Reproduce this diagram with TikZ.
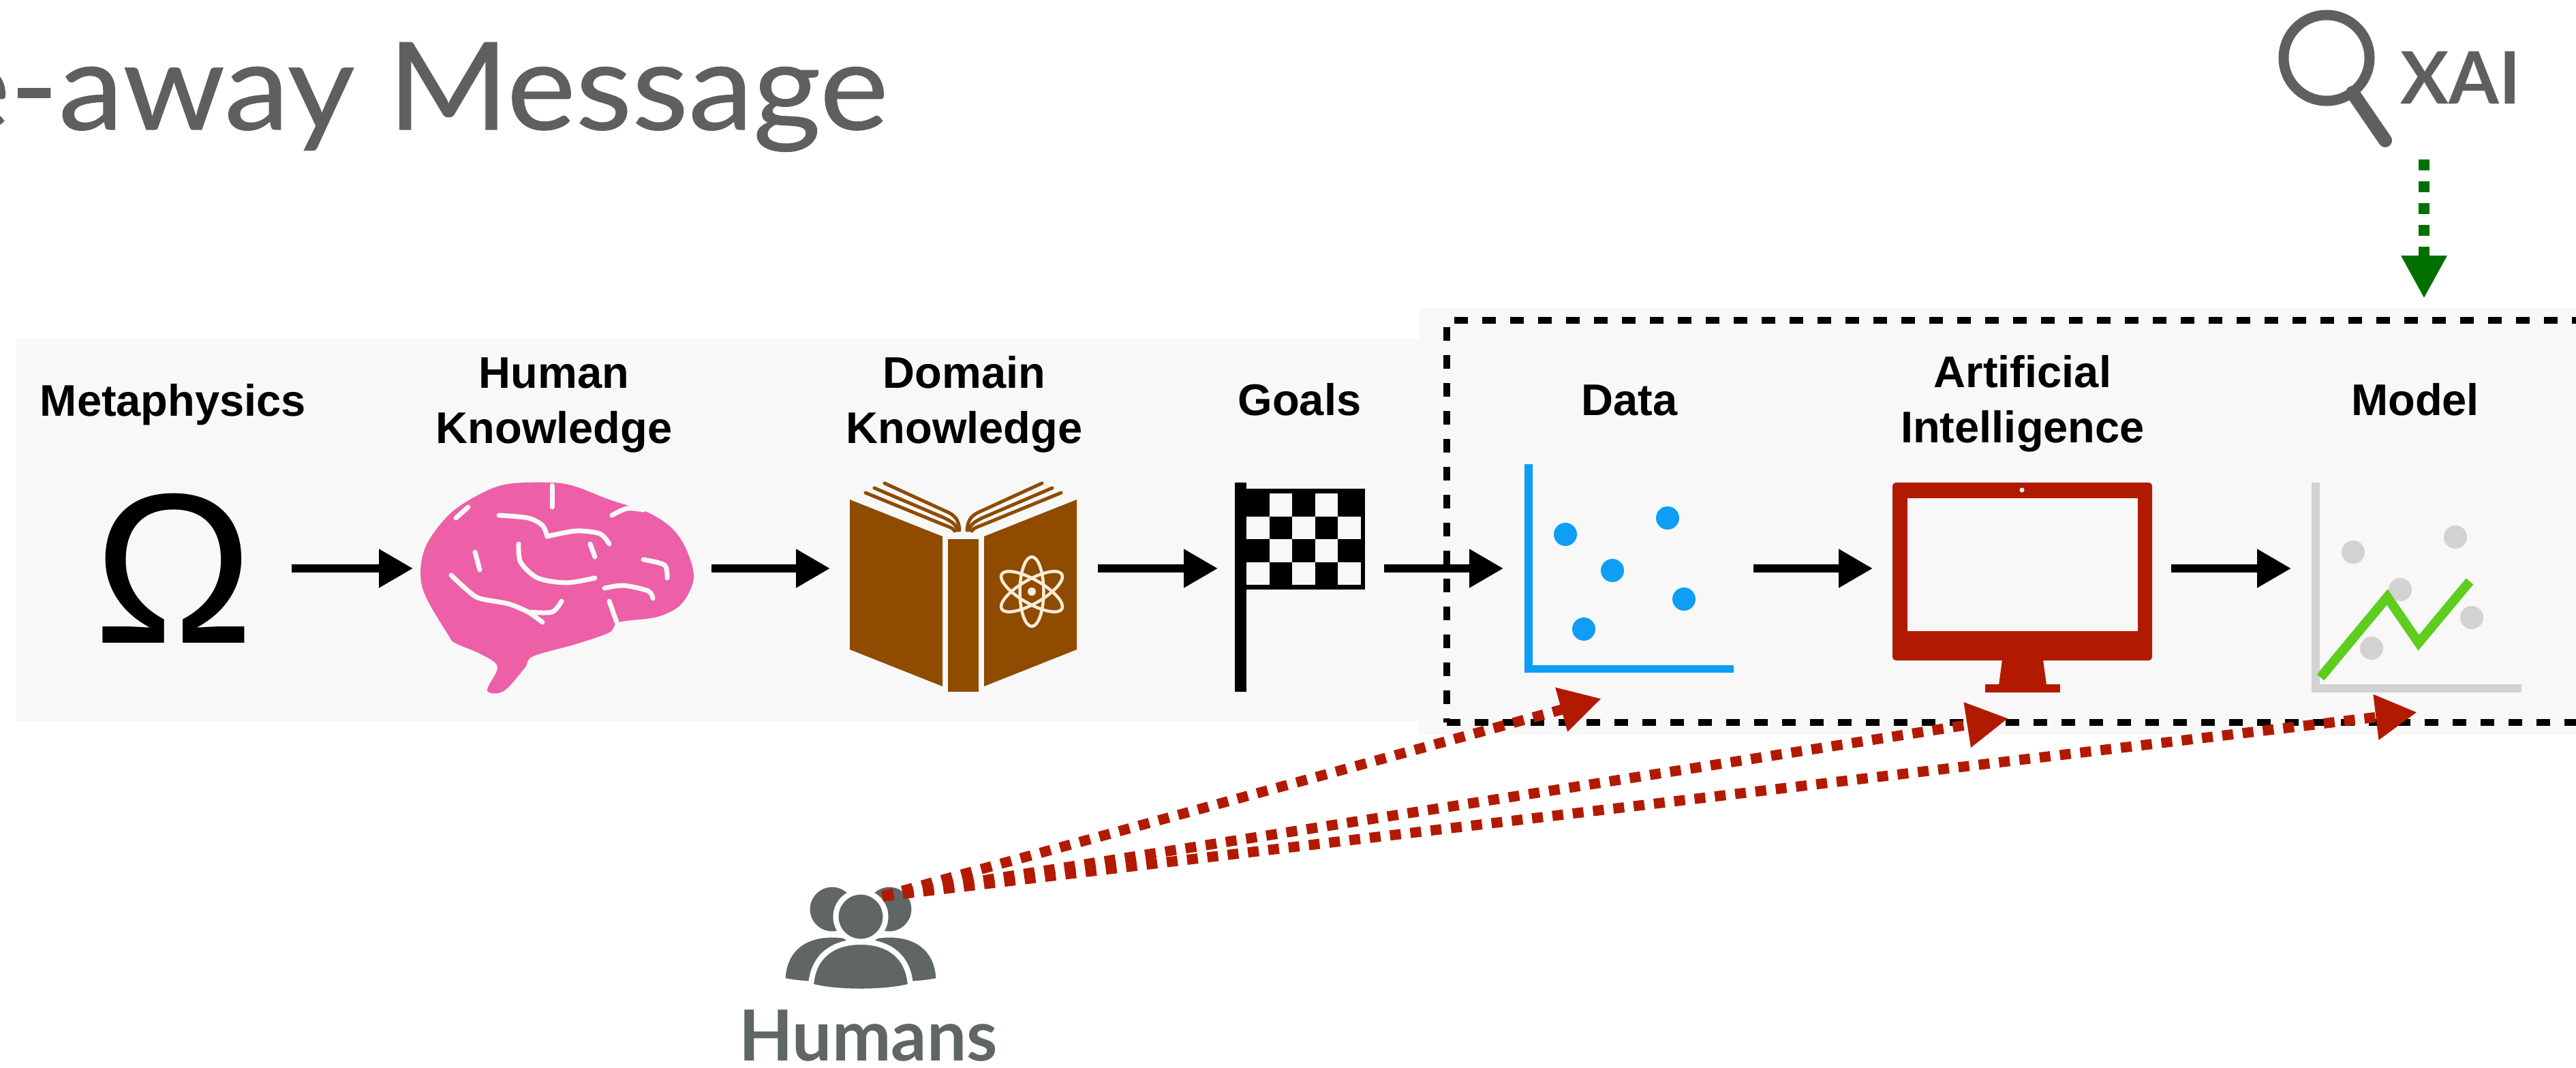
\documentclass[tikz,border=0pt]{standalone}
\usepackage{fontspec}
\setmainfont{Liberation Sans}
\newfontfamily\latofont{Lato}
\newfontfamily\titlefont[FakeStretch=1.07, FakeBold=0.6]{Lato}
\usetikzlibrary{arrows.meta}

\definecolor{panelgray}{RGB}{248,248,248}
\definecolor{titlegray}{RGB}{95,95,95}
\definecolor{humgray}{RGB}{96,101,101}
\definecolor{brainpink}{RGB}{237,95,166}
\definecolor{bookbrown}{RGB}{143,75,0}
\definecolor{atomcream}{RGB}{248,236,216}
\definecolor{datablue}{RGB}{14,158,245}
\definecolor{aired}{RGB}{178,26,0}
\definecolor{modelgray}{RGB}{210,210,210}
\definecolor{fitgreen}{RGB}{94,205,30}
\definecolor{xaigreen}{RGB}{0,112,0}

\tikzset{
  stage/.style={font=\fontsize{18.5}{22.8}\selectfont\bfseries, align=center, anchor=base, inner sep=0},
  iconbox/.style={inner sep=0, outer sep=0, minimum height=2.5cm},
  flow/.style={line width=0.115cm, -{Triangle[length=0.5cm,width=0.54cm]}},
  humanlink/.style={aired, line width=0.15cm, dash pattern=on 0.16cm off 0.14cm, -{Triangle[length=0.61cm,width=0.63cm]}},
  xaiflow/.style={xaigreen, line width=0.16cm, dash pattern=on 0.16cm off 0.16cm, -{Triangle[length=0.63cm,width=0.63cm]}},
  pipebox/.style={draw, line width=0.10cm, dash pattern=on 0.20cm off 0.21cm, inner sep=0, outer sep=0},
}

\begin{document}
\begin{tikzpicture}[x=1cm, y=-1cm]
  \useasboundingbox (0,0) rectangle (37.8,15.66);
  \clip (0,0) rectangle (37.8,15.66);

  % title and backgrounds
  \node[font=\titlefont\fontsize{50.8}{50.8}\selectfont, text=titlegray, anchor=base east, inner sep=0] (title) at (13.04,1.90) {Take-away Message};
  \fill[panelgray] (0.24,4.96) rectangle (20.82,10.58);
  \fill[panelgray] (20.82,4.52) rectangle (37.80,10.78);
  \node[pipebox, anchor=north west, minimum width=17.5cm, minimum height=5.90cm] (pipe) at (21.23,4.70) {};

  % stage labels (base = last line)
  \node[stage] (lmeta) at (2.54,6.10) {Metaphysics};
  \node[stage] (lhuman) at (8.13,6.50) {Human\\Knowledge};
  \node[stage] (ldomain) at (14.15,6.50) {Domain\\Knowledge};
  \node[stage] (lgoals) at (19.07,6.09) {Goals};
  \node[stage] (ldata) at (23.91,6.09) {Data};
  \node[stage] (lai) at (29.68,6.49) {Artificial\\Intelligence};
  \node[stage] (lmodel) at (35.44,6.09) {Model};

  % icon slots
  \node[iconbox, minimum width=3.46cm, font=\fontsize{89.4}{89.4}\selectfont] (omega) at (2.55,8.34) {Ω};
  \node[iconbox, minimum width=4.38cm] (brain) at (8.25,8.34) {};
  \node[iconbox, minimum width=3.93cm] (book) at (14.145,8.34) {};
  \node[iconbox, minimum width=2.44cm] (flag) at (19.09,8.34) {};
  \node[iconbox, minimum width=3.67cm] (scatter) at (23.895,8.34) {};
  \node[iconbox, minimum width=4.38cm] (screen) at (29.67,8.34) {};
  \node[iconbox, minimum width=3.68cm] (fit) at (35.46,8.34) {};

  % brain
  \fill[brainpink] plot[smooth cycle, tension=0.55] coordinates {(6.58,9.32) (6.20,8.63) (6.23,8.06) (6.58,7.56) (7.04,7.25) (7.46,7.10) (8.10,7.08) (8.45,7.14) (8.94,7.33) (9.51,7.52) (9.86,7.75) (10.07,8.06) (10.18,8.48) (10.00,8.86) (9.65,9.05) (9.08,9.13) (8.94,9.28) (8.45,9.45) (7.82,9.63) (7.70,9.80) (7.39,10.14) (7.15,10.13) (7.30,9.78) (7.04,9.59) (6.69,9.44)};
  \begin{scope}[panelgray, line width=0.07cm, line cap=round]
    \draw (8.10,7.12) -- (8.10,7.44);
    \draw plot[smooth] coordinates {(7.32,7.56) (7.75,7.60) (7.96,7.71) (8.03,7.87)};
    \draw plot[smooth] coordinates {(8.03,7.87) (8.45,7.79) (8.80,7.83) (8.94,7.98)};
    \draw plot[smooth] coordinates {(8.98,7.56) (9.20,7.46) (9.44,7.48)};
    \draw plot[smooth] coordinates {(7.61,7.98) (7.64,8.25) (7.89,8.48) (8.31,8.55) (8.73,8.48)};
    \draw (8.73,8.17) -- (8.66,7.98);
    \draw plot[smooth] coordinates {(9.44,8.21) (9.75,8.29) (9.79,8.48)};
    \draw plot[smooth] coordinates {(6.62,8.44) (6.87,8.67) (7.04,8.78) (7.46,8.86) (7.75,8.98) (7.96,9.13)};
    \draw plot[smooth] coordinates {(7.75,8.98) (8.10,8.98) (8.24,8.82)};
    \draw plot[smooth] coordinates {(8.87,8.63) (9.15,8.59) (9.51,8.67) (9.58,8.78)};
    \draw (8.94,8.82) -- (9.05,9.13);
    \draw (6.97,8.10) -- (7.04,8.36);
    \draw (6.69,7.60) -- (6.87,7.44);
  \end{scope}

  % book
  \fill[bookbrown] (12.47,7.33) -- (13.83,7.87) -- (13.83,10.07) -- (12.47,9.53) -- cycle;
  \fill[bookbrown] (13.91,7.91) rectangle (14.36,10.15);
  \fill[bookbrown] (14.44,7.87) -- (15.80,7.33) -- (15.80,9.53) -- (14.44,10.07) -- cycle;
  \begin{scope}[bookbrown, line width=0.05cm, line cap=round]
    \draw (12.98,7.09) -- (13.92,7.52) .. controls (14.04,7.58) and (14.07,7.66) .. (14.08,7.78);
    \draw (12.83,7.16) -- (13.86,7.60) .. controls (13.98,7.66) and (14.03,7.70) .. (14.05,7.78);
    \draw (12.70,7.23) -- (13.80,7.68) .. controls (13.92,7.73) and (13.98,7.74) .. (14.01,7.79);
    \draw (15.29,7.09) -- (14.35,7.52) .. controls (14.23,7.58) and (14.20,7.66) .. (14.19,7.78);
    \draw (15.44,7.16) -- (14.41,7.60) .. controls (14.29,7.66) and (14.24,7.70) .. (14.22,7.78);
    \draw (15.57,7.23) -- (14.47,7.68) .. controls (14.35,7.73) and (14.29,7.74) .. (14.26,7.79);
  \end{scope}
  \foreach \r in {0,60,-60}
    \draw[atomcream, line width=0.045cm, rotate around={\r:(15.14,8.68)}] (15.14,8.68) ellipse [x radius=0.175cm, y radius=0.51cm];
  \fill[atomcream] (15.14,8.68) circle[radius=0.06cm];

  % flag
  \fill (18.12,7.08) rectangle (18.29,10.15);
  \fill (18.29,7.17) rectangle (20.03,8.65);
  \foreach \c/\r in {1/0,3/0,0/1,2/1,4/1,1/2,3/2,0/3,2/3,4/3}
    \fill[panelgray] ({18.29+0.335*\c},{7.24+0.336*\r}) rectangle ++(0.335,0.336);

  % data
  \draw[datablue, line width=0.115cm] (22.43,6.81) -- (22.43,9.815) -- (25.44,9.815);
  \foreach \p in {(22.97,7.84),(24.47,7.60),(23.66,8.37),(24.71,8.79),(23.24,9.23)}
    \fill[datablue] \p circle[radius=0.17cm];

  % computer
  \fill[aired, rounded corners=0.05cm] (27.77,7.08) rectangle (31.58,9.69);
  \fill[panelgray] (27.99,7.31) rectangle (31.37,9.26);
  \fill[panelgray] (29.67,7.19) circle[radius=0.035cm];
  \fill[aired] (29.38,9.68) -- (29.98,9.68) -- (30.03,10.05) -- (29.33,10.05) -- cycle;
  \fill[aired] (29.13,10.04) rectangle (30.23,10.16);

  % model
  \draw[modelgray, line width=0.12cm] (33.98,7.08) -- (33.98,10.095) -- (37.00,10.095);
  \foreach \p in {(34.53,8.10),(36.03,7.88),(35.22,8.65),(36.27,9.06),(34.80,9.51)}
    \fill[modelgray] \p circle[radius=0.17cm];
  \draw[fitgreen, line width=0.14cm] (34.05,9.94) -- (35.03,8.76) -- (35.49,9.43) -- (36.24,8.53);

  % pipeline arrows
  \foreach \a/\b in {omega/brain, brain/book, book/flag, flag/scatter, scatter/screen, screen/fit}
    \draw[flow] (\a) -- (\b);

  % XAI
  \node[draw=titlegray, line width=0.15cm, circle, minimum size=1.26cm, inner sep=0] (lens) at (34.14,0.85) {};
  \draw[titlegray, line width=0.20cm, line cap=round] (34.52,1.36) -- (35.00,2.06);
  \node[font=\latofont\bfseries\fontsize{30.2}{30.2}\selectfont, text=titlegray, anchor=base west, inner sep=0] (xai) at (35.22,1.52) {XAI};
  \coordinate (xaistart) at (35.57,2.34);
  \coordinate (xaitip) at (35.57,4.38);
  \draw[xaiflow] (xaistart) -- (xaitip);

  % humans
  \node[inner sep=0, minimum width=2.3cm, minimum height=1.6cm] (humans) at (12.63,13.78) {};
  \begin{scope}[fill=humgray, draw=white, line width=0.07cm]
    \filldraw (11.49,14.38) .. controls (11.50,13.95) and (11.78,13.72) .. (12.21,13.72) .. controls (12.64,13.72) and (12.92,13.95) .. (12.93,14.38) .. controls (12.60,14.46) and (11.82,14.46) .. cycle;
    \filldraw (12.33,14.38) .. controls (12.34,13.95) and (12.62,13.72) .. (13.05,13.72) .. controls (13.48,13.72) and (13.76,13.95) .. (13.77,14.38) .. controls (13.44,14.46) and (12.66,14.46) .. cycle;
    \filldraw (12.21,13.34) circle[radius=0.36cm];
    \filldraw (13.05,13.34) circle[radius=0.36cm];
    \filldraw[line width=0.08cm] (11.90,14.47) .. controls (11.92,14.05) and (12.20,13.82) .. (12.63,13.82) .. controls (13.06,13.82) and (13.34,14.05) .. (13.36,14.47) .. controls (13.00,14.57) and (12.26,14.57) .. cycle;
    \filldraw[line width=0.08cm] (12.63,13.45) circle[radius=0.365cm];
  \end{scope}
  \node[font=\latofont\bfseries\fontsize{29.4}{29.4}\selectfont, text=humgray, anchor=base, inner sep=0] (humanstext) at (12.74,15.56) {Humans};

  % humans in the loop
  \coordinate (humstart) at (12.95,13.15);
  \coordinate (tipdata) at (23.50,10.25);
  \coordinate (tipai) at (29.47,10.54);
  \coordinate (tipmodel) at (35.47,10.45);
  \foreach \t in {tipdata, tipai, tipmodel}
    \draw[humanlink] (humstart) -- (\t);
\end{tikzpicture}
\end{document}
